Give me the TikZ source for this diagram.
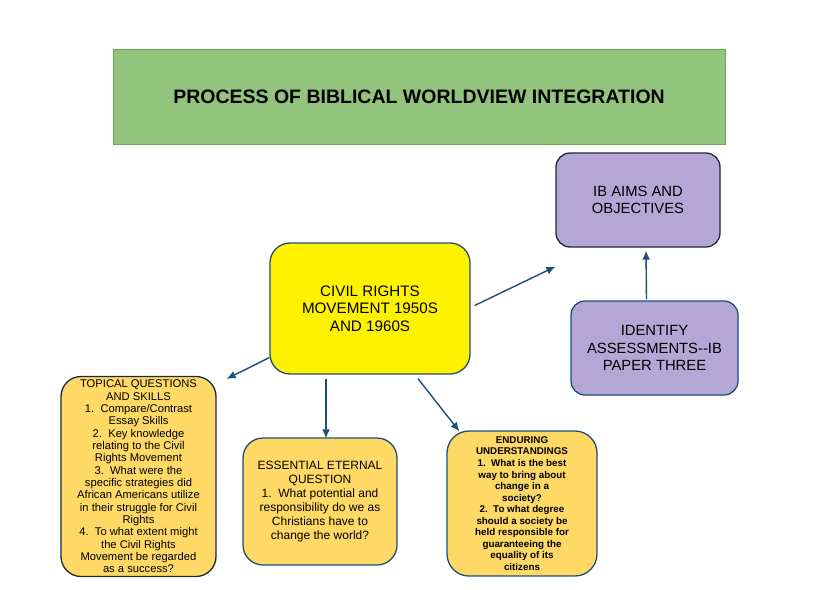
\documentclass[tikz,border=0pt]{standalone}
\usepackage{fontspec}
\setmainfont{Liberation Sans}
\usepackage{tikz}
\usetikzlibrary{arrows.meta,positioning,calc}

\definecolor{titlegreen}{HTML}{93C47D}
\definecolor{titleedge}{HTML}{6AA84F}
\definecolor{aimspurple}{HTML}{B4A7D6}
\definecolor{topicgold}{HTML}{FFD966}
\definecolor{linkblue}{HTML}{1F4E79}
\definecolor{edgedark}{HTML}{1C2A3A}

\begin{document}
\begin{tikzpicture}[
    x=1pt, y=-1pt,
    >={Latex[length=9pt,width=8pt]},
    title/.style={
        draw=titleedge,
        fill=titlegreen,
        line width=1pt,
        align=center,
        inner sep=0pt,
        minimum width=612pt,
        minimum height=95pt,
        font=\fontsize{19.5}{23}\selectfont\bfseries
    },
    aimsbox/.style={
        draw=edgedark,
        fill=aimspurple,
        line width=1.3pt,
        rounded corners=14pt,
        align=center,
        inner sep=0pt,
        minimum width=164pt,
        minimum height=94pt,
        font=\fontsize{14.8}{17.5}\selectfont
    },
    topicbox/.style={
        draw=linkblue,
        fill=topicgold,
        line width=1.3pt,
        rounded corners=20pt,
        align=center,
        inner sep=0pt
    },
    link/.style={
        ->,
        draw=linkblue,
        line width=1.4pt
    }
]

\useasboundingbox[fill=white] (0,0) rectangle (840,589);

% ------------------------------------------------
% Title
% ------------------------------------------------

\node[title] (heading) at (419, 96.5)
    {PROCESS OF BIBLICAL WORLDVIEW INTEGRATION};

% ------------------------------------------------
% Centre and IB boxes
% ------------------------------------------------

\node[topicbox, fill=yellow, minimum width=200pt, minimum height=131pt,
      font=\fontsize{15.2}{17.5}\selectfont] (civil) at (370, 308.5)
    {CIVIL RIGHTS\\MOVEMENT 1950S\\AND 1960S};

\node[aimsbox] (aims) at (638, 200)
    {IB AIMS AND\\OBJECTIVES};

\node[aimsbox, draw=linkblue, minimum width=167pt] (assess) at (654.5, 348)
    {IDENTIFY\\ASSESSMENTS{-}{-}IB\\PAPER THREE};

% ------------------------------------------------
% Lower boxes
% ------------------------------------------------

\node[topicbox, draw=edgedark, minimum width=155pt, minimum height=200pt,
      font=\fontsize{11.2}{12.35}\selectfont] (topical) at (138.5, 476.5)
    {TOPICAL QUESTIONS\\AND SKILLS\\
     1.\ \ Compare/Contrast\\Essay Skills\\
     2.\ \ Key knowledge\\relating to the Civil\\Rights Movement\\
     3.\ \ What were the\\specific strategies did\\African Americans utilize\\
     in their struggle for Civil\\Rights\\
     4.\ \ To what extent might\\the Civil Rights\\Movement be regarded\\
     as a success?};

\node[topicbox, minimum width=154pt, minimum height=127pt,
      font=\fontsize{12}{14}\selectfont] (essential) at (320, 501.5)
    {ESSENTIAL ETERNAL\\QUESTION\\
     1.\ \ What potential and\\responsibility do we as\\
     Christians have to\\change the world?};

\node[topicbox, rounded corners=22pt, minimum width=150pt, minimum height=145pt,
      font=\fontsize{9.8}{11.55}\selectfont\bfseries] (enduring) at (522, 503.5)
    {ENDURING\\UNDERSTANDINGS\\
     1.\ \ What is the best\\way to bring about\\change in a\\society?\\
     2.\ \ To what degree\\should a society be\\held responsible for\\
     guaranteeing the\\equality of its\\citizens};

% ------------------------------------------------
% Connections
% ------------------------------------------------

\draw[link] (civil.206.8) -- ([xshift=10pt,yshift=-3pt]topical.north east);
\draw[link] ([xshift=-44pt,yshift=-4pt]civil.south)
    -- ([xshift=6pt,yshift=-1pt]essential.north);
\draw[link] ([xshift=48pt,yshift=-4pt]civil.south)
    -- ([xshift=13pt,yshift=-1pt]enduring.north west);
\draw[link] ([xshift=4pt,yshift=3pt]civil.east)
    -- ([yshift=-19pt]aims.south west);

% Assessments feed the IB aims
\draw[link] ([xshift=-8pt,yshift=1pt]assess.north)
    -- ([xshift=8pt,yshift=-3pt]aims.south);

\end{tikzpicture}
\end{document}
